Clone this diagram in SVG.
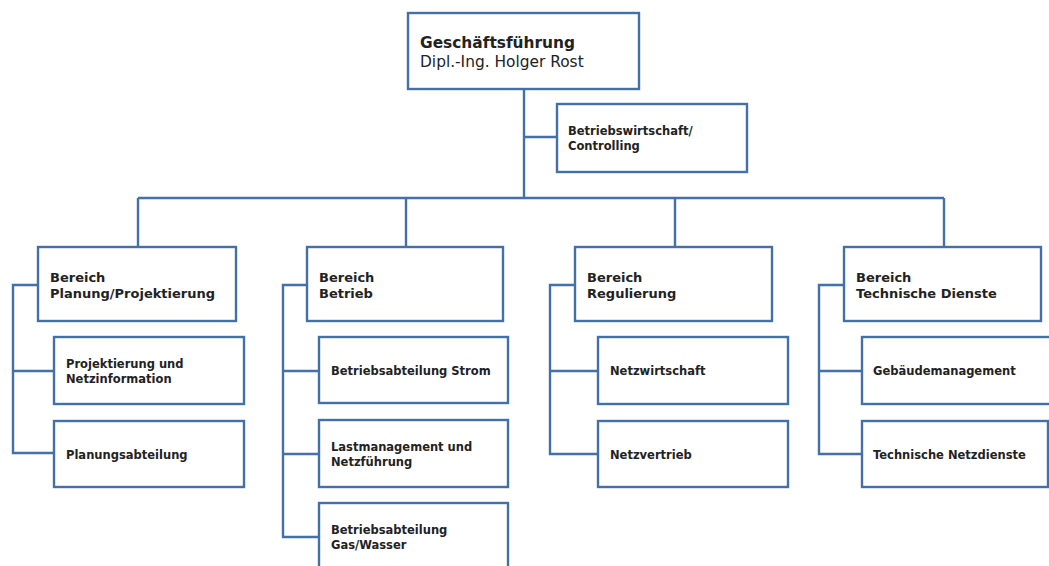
<svg xmlns="http://www.w3.org/2000/svg" width="1049" height="566" viewBox="0 0 1049 566">
<style>
.box{fill:#fff;stroke:#4470a8;stroke-width:2.4}
.ln{fill:none;stroke:#4470a8;stroke-width:2.4}
text{font-family:"DejaVu Sans","Verdana",sans-serif;fill:#222}
.t{font-size:11.5px;font-weight:bold}
.b{font-size:13px;font-weight:bold}
</style>
<rect width="1049" height="566" fill="#fff"/>
<g id="connectors">
<path class="ln" d="M524 89V198M524 137H557M138 198H944M138 198V247M406 198V247M675 198V247M944 198V247"/>
<path class="ln" d="M38 285H13V453H54M13 371H54"/>
<path class="ln" d="M307 285H283V537H319M283 371H319M283 454H319"/>
<path class="ln" d="M575 285H550V454H598M550 371H598"/>
<path class="ln" d="M844 285H819V454H862M819 371H862"/>
</g>
<g id="gf"><rect class="box" x="408" y="13" width="231" height="76"/>
<text x="420" y="48" font-size="15.4" font-weight="bold">Geschäftsführung</text>
<text x="420" y="67" font-size="15.4" fill="#333">Dipl.-Ing. Holger Rost</text></g>
<g id="bwc"><rect class="box" x="557" y="104" width="190" height="68"/>
<text class="t" x="568" y="135">Betriebswirtschaft/</text><text class="t" x="568" y="150">Controlling</text></g>
<g id="b1"><rect class="box" x="38" y="247" width="198" height="74"/>
<text class="b" x="50" y="282">Bereich</text><text class="b" x="50" y="298">Planung/Projektierung</text></g>
<g id="b2"><rect class="box" x="307" y="247" width="196" height="74"/>
<text class="b" x="319" y="282">Bereich</text><text class="b" x="319" y="298">Betrieb</text></g>
<g id="b3"><rect class="box" x="575" y="247" width="197" height="74"/>
<text class="b" x="587" y="282">Bereich</text><text class="b" x="587" y="298">Regulierung</text></g>
<g id="b4"><rect class="box" x="844" y="247" width="197" height="74"/>
<text class="b" x="856" y="282">Bereich</text><text class="b" x="856" y="298">Technische Dienste</text></g>
<g id="c11"><rect class="box" x="54" y="337" width="190" height="67"/>
<text class="t" x="66" y="368">Projektierung und</text><text class="t" x="66" y="383">Netzinformation</text></g>
<g id="c12"><rect class="box" x="54" y="421" width="190" height="66"/>
<text class="t" x="66" y="459">Planungsabteilung</text></g>
<g id="c21"><rect class="box" x="319" y="337" width="189" height="66"/>
<text class="t" x="331" y="375">Betriebsabteilung Strom</text></g>
<g id="c22"><rect class="box" x="319" y="420" width="189" height="67"/>
<text class="t" x="331" y="451">Lastmanagement und</text><text class="t" x="331" y="466">Netzführung</text></g>
<g id="c23"><rect class="box" x="319" y="503" width="189" height="70"/>
<text class="t" x="331" y="534">Betriebsabteilung</text><text class="t" x="331" y="549">Gas/Wasser</text></g>
<g id="c31"><rect class="box" x="598" y="337" width="190" height="67"/>
<text class="t" x="610" y="375">Netzwirtschaft</text></g>
<g id="c32"><rect class="box" x="598" y="421" width="190" height="66"/>
<text class="t" x="610" y="459">Netzvertrieb</text></g>
<g id="c41"><rect class="box" x="862" y="337" width="190" height="67"/>
<text class="t" x="873" y="375">Gebäudemanagement</text></g>
<g id="c42"><rect class="box" x="862" y="421" width="186" height="66"/>
<text class="t" x="873" y="459">Technische Netzdienste</text></g>
</svg>
